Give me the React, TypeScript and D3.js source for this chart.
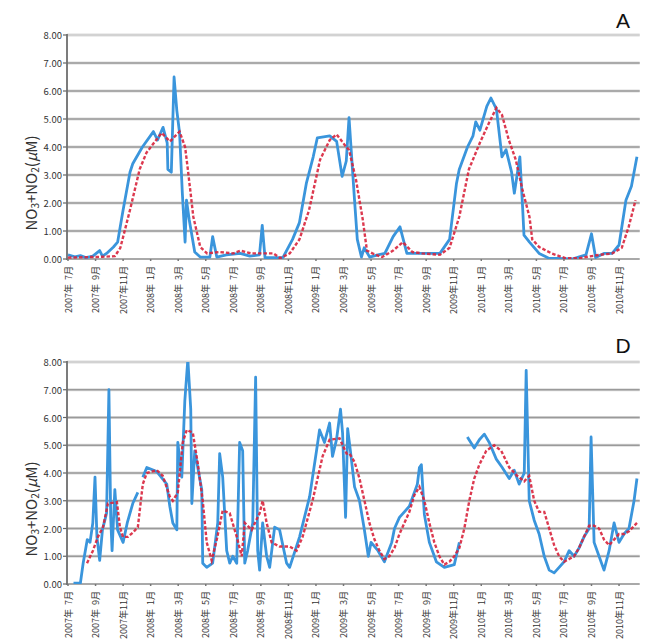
import React from "react";
import * as d3 from "d3";

// time is expressed in months since 2007-07-01
type P = [number, number] | null;

const tickMonths = [0, 2, 4, 6, 8, 10, 12, 14, 16, 18, 20, 22, 24, 26, 28, 30, 32, 34, 36, 38, 40];
const tickLabels = [
  "2007年  7月", "2007年  9月", "2007年11月", "2008年  1月", "2008年  3月", "2008年  5月",
  "2008年  7月", "2008年  9月", "2008年11月", "2009年  1月", "2009年  3月", "2009年  5月",
  "2009年  7月", "2009年  9月", "2009年11月", "2010年  1月", "2010年  3月", "2010年  5月",
  "2010年  7月", "2010年  9月", "2010年11月",
];
const yTicks = [0, 1, 2, 3, 4, 5, 6, 7, 8];

const obsA: P[] = [
  [0, 0.15], [0.5, 0.08], [0.9, 0.12], [1.3, 0.05], [1.8, 0.1], [2.3, 0.3], [2.5, 0.1], [2.8, 0.2],
  [3.3, 0.43], [3.6, 0.6], [4.0, 1.75], [4.5, 3.1], [4.7, 3.4], [5.4, 4.0], [6.2, 4.55], [6.5, 4.25],
  [6.9, 4.7], [7.2, 4.15], [7.25, 3.2], [7.5, 3.1], [7.7, 6.5], [7.9, 5.3], [8.1, 4.5], [8.3, 2.35],
  [8.5, 0.6], [8.6, 2.1], [8.8, 1.4], [9.2, 0.25], [9.6, 0.07], [10.3, 0.07], [10.5, 0.8], [10.8, 0.07],
  [11.5, 0.15], [12.5, 0.2], [13.2, 0.1], [13.9, 0.15], [14.1, 1.2], [14.3, 0.05], [15.0, 0.05],
  [15.6, 0.05], [16.3, 0.7], [16.8, 1.3], [17.3, 2.7], [17.8, 3.65], [18.1, 4.33], [19.0, 4.4],
  [19.5, 4.2], [19.9, 2.95], [20.2, 3.5], [20.4, 5.05], [20.8, 2.1], [21.0, 0.7], [21.3, 0.07],
  [21.5, 0.4], [21.9, 0.07], [22.5, 0.15], [23.0, 0.2], [23.6, 0.8], [24.1, 1.15], [24.6, 0.2],
  [25.5, 0.2], [26.5, 0.2], [27.0, 0.2], [27.7, 0.7], [28.2, 2.7], [28.4, 3.2], [29.0, 4.0],
  [29.4, 4.4], [29.6, 4.9], [29.9, 4.6], [30.4, 5.45], [30.7, 5.75], [31.1, 5.35], [31.5, 3.65],
  [31.8, 3.9], [32.2, 3.1], [32.4, 2.35], [32.8, 3.65], [33.0, 1.85], [33.1, 0.85], [33.5, 0.6],
  [34.2, 0.2], [34.9, 0.03], [36.6, 0.0], [37.6, 0.15], [38.0, 0.9], [38.3, 0.05], [38.9, 0.2],
  [39.5, 0.2], [40.0, 0.5], [40.5, 2.1], [40.9, 2.6], [41.3, 3.65],
];

const avgA: P[] = [
  [0, 0.05], [2.5, 0.08], [3.4, 0.1], [3.8, 0.4], [4.5, 1.75], [5.2, 3.2], [5.7, 3.8], [6.4, 4.25],
  [6.8, 4.5], [7.4, 4.2], [8.1, 4.55], [8.5, 4.0], [8.7, 3.2], [9.1, 1.5], [9.6, 0.43], [10.1, 0.2],
  [11, 0.25], [12, 0.2], [12.5, 0.3], [13.3, 0.2], [14.3, 0.2], [14.9, 0.2], [15.4, 0.03], [16.1, 0.2],
  [16.8, 0.7], [17.5, 1.75], [18.3, 3.55], [19.0, 4.25], [19.5, 4.45], [20.2, 4.0], [20.4, 3.9],
  [20.9, 2.85], [21.4, 1.4], [21.7, 0.3], [22.1, 0.2], [22.8, 0.07], [23.6, 0.3], [24.3, 0.6],
  [25.0, 0.25], [25.7, 0.2], [27.0, 0.15], [27.7, 0.4], [28.4, 1.5], [29.1, 3.2], [29.9, 4.15],
  [30.6, 4.9], [31.1, 5.4], [31.5, 5.15], [32.0, 4.25], [32.5, 3.55], [33.0, 2.45], [33.5, 1.5],
  [33.7, 0.7], [34.2, 0.43], [35.1, 0.2], [36.1, 0.03], [37.1, 0.03], [38.6, 0.15], [39.5, 0.2],
  [40.2, 0.4], [40.7, 1.15], [41.2, 2.1],
];

const obsD: P[] = [
  [0.4, 0.03], [0.9, 0.03], [1.1, 0.75], [1.4, 1.6], [1.6, 1.5], [1.8, 2.2], [1.96, 3.85], [2.1, 1.7],
  [2.3, 0.85], [2.5, 1.95], [2.8, 2.55], [2.97, 7.0], [3.1, 2.4], [3.2, 1.2], [3.4, 3.4], [3.6, 1.95],
  [4.0, 1.5], [4.3, 2.2], [4.7, 2.9], [5.07, 3.3], null, [5.43, 3.85], [5.72, 4.2], [6.45, 4.05],
  [7.17, 3.6], [7.39, 2.8], [7.61, 2.2], [7.9, 1.95], [7.97, 5.1], [8.26, 3.85], [8.48, 6.6],
  [8.7, 8.1], [8.91, 6.3], [8.99, 2.9], [9.2, 4.8], [9.42, 4.2], [9.71, 3.4], [9.78, 0.75],
  [10.07, 0.6], [10.5, 0.75], [10.87, 2.2], [11.01, 4.7], [11.23, 3.85], [11.52, 1.2], [11.74, 0.75],
  [11.96, 1.0], [12.25, 0.75], [12.46, 5.1], [12.68, 4.8], [12.83, 0.75], [13.04, 1.2], [13.41, 2.2],
  [13.62, 7.45], [13.77, 1.2], [13.91, 0.5], [14.13, 2.2], [14.42, 1.0], [14.64, 0.6], [15.0, 2.05],
  [15.36, 1.95], [15.87, 0.75], [16.09, 0.6], [16.81, 1.7], [17.54, 3.15], [18.04, 4.8], [18.26, 5.55],
  [18.62, 5.1], [18.99, 5.8], [19.2, 4.6], [19.49, 5.2], [19.78, 6.3], [19.93, 5.45], [20.15, 2.4],
  [20.3, 5.6], [20.5, 4.8], [20.8, 3.5], [21.16, 3.0], [21.5, 2.0], [21.8, 1.0], [22.0, 1.5],
  [22.5, 1.2], [22.97, 0.8], [23.5, 1.5], [23.7, 2.0], [24.06, 2.4], [24.78, 2.8], [25.36, 3.6],
  [25.51, 4.2], [25.65, 4.3], [25.87, 2.5], [26.23, 1.5], [26.74, 0.8], [27.32, 0.6], [28.04, 0.7],
  [28.41, 1.5], null, [28.99, 5.3], [29.49, 4.9], [29.86, 5.2], [30.22, 5.4], [30.58, 5.1],
  [31.09, 4.5], [31.52, 4.2], [32.03, 3.8], [32.39, 4.1], [32.75, 3.6], [33.12, 4.0], [33.26, 7.7],
  [33.48, 3.0], [33.84, 2.3], [34.2, 1.8], [34.57, 1.0], [34.93, 0.5], [35.29, 0.4], [35.65, 0.6],
  [36.01, 0.8], [36.38, 1.2], [36.74, 1.0], [37.1, 1.3], [37.46, 1.7], [37.83, 2.0], [37.97, 5.3],
  [38.19, 1.5], [38.55, 1.0], [38.91, 0.5], [39.28, 1.2], [39.64, 2.2], [40.0, 1.5], [40.36, 1.8],
  [40.72, 2.0], [41.09, 3.0], [41.3, 3.8],
];

const avgD: P[] = [
  [1.38, 0.75], [1.81, 1.2], [2.17, 1.7], [2.54, 2.05], [2.9, 2.9], [3.55, 2.95], [3.77, 2.05],
  [3.99, 1.7], [4.35, 1.7], [4.71, 1.85], [5.07, 2.05], [5.43, 3.6], [5.72, 4.0], [6.45, 4.1],
  [6.88, 3.9], [7.39, 3.15], [7.61, 3.0], [7.97, 3.3], [8.33, 5.1], [8.62, 5.55], [9.06, 5.45],
  [9.42, 4.35], [9.78, 3.0], [10.07, 1.5], [10.43, 0.85], [10.8, 1.6], [11.23, 2.65], [11.74, 2.55],
  [12.25, 1.7], [12.61, 1.0], [12.83, 2.2], [13.33, 1.95], [13.91, 2.55], [14.13, 3.0], [14.42, 2.2],
  [14.78, 1.5], [15.36, 1.35], [16.09, 1.35], [16.59, 1.2], [17.03, 1.7], [17.75, 3.0], [18.48, 4.6],
  [18.99, 5.2], [19.71, 5.25], [20.22, 4.7], [20.43, 4.7], [20.8, 4.4], [21.16, 3.8], [21.52, 3.0],
  [21.88, 2.2], [22.25, 1.6], [22.61, 1.2], [22.97, 0.9], [23.33, 1.0], [23.7, 1.3], [24.06, 1.8],
  [24.42, 2.2], [24.78, 2.6], [25.14, 3.2], [25.51, 3.5], [25.87, 3.0], [26.23, 2.2], [26.59, 1.5],
  [26.96, 1.0], [27.32, 0.7], [27.68, 0.8], [28.04, 1.0], [28.41, 1.3], [28.77, 2.0], [29.13, 3.0],
  [29.49, 3.8], [29.86, 4.3], [30.36, 4.8], [30.94, 5.0], [31.45, 4.8], [32.03, 4.2], [32.61, 3.9],
  [33.12, 3.7], [33.48, 3.9], [33.84, 3.0], [34.2, 2.6], [34.57, 2.6], [34.93, 2.0], [35.29, 1.4],
  [35.65, 1.0], [36.01, 0.8], [36.38, 0.9], [36.74, 1.0], [37.1, 1.3], [37.46, 1.7], [37.83, 2.1],
  [38.19, 2.1], [38.55, 2.0], [38.91, 1.6], [39.28, 1.4], [39.64, 1.6], [40.0, 1.8], [40.36, 1.8],
  [40.72, 1.9], [41.3, 2.2],
];

const W = 648;
const H = 643;
const X0 = 68;
const X1 = 639.7;
const FONT = "'Noto Sans CJK JP', 'Noto Sans', sans-serif";

function Panel({ id, top, bottom, obs, avg, letter, letterY }: {
  id: string; top: number; bottom: number; obs: P[]; avg: P[]; letter: string; letterY: number;
}) {
  const x = d3.scaleLinear().domain([0, 41.5]).range([X0, X1]);
  const y = d3.scaleLinear().domain([0, 8]).range([bottom, top]);
  const line = d3.line<P>()
    .defined((d) => d != null)
    .x((d) => x((d as [number, number])[0]))
    .y((d) => y((d as [number, number])[1]));
  const axisX = X0 - 1;
  const titleY = (top + bottom) / 2 + 36;
  return (
    <g>
      <defs>
        <clipPath id={`clip-${id}`}>
          <rect x={axisX} y={top} width={X1 - axisX + 2} height={bottom - top} />
        </clipPath>
      </defs>
      {yTicks.map((t) => (
        <g key={t}>
          {t > 0 && (
            <line x1={axisX} x2={X1} y1={y(t)} y2={y(t)} stroke="#dcdcdc" strokeWidth={3.2} />
          )}
          <line
            x1={axisX} x2={X1} y1={y(t)} y2={y(t)}
            stroke={t === 8 ? "#c8c8c8" : t === 0 ? "#8c8c8c" : "#9a9a9a"}
            strokeWidth={t === 8 ? 1.2 : 1.5}
          />
          <line x1={axisX - 4} x2={axisX} y1={y(t)} y2={y(t)} stroke="#666" strokeWidth={1.2} />
          <text
            x={axisX - 5} y={y(t)} textAnchor="end" dominantBaseline="central"
            fontSize={9.5} fontFamily={FONT} fill="#333"
          >
            {t.toFixed(2)}
          </text>
        </g>
      ))}
      <line x1={axisX} x2={axisX} y1={top - 1} y2={bottom + 1} stroke="#6e6e6e" strokeWidth={1.8} />
      {tickMonths.map((m, i) => (
        <g key={m}>
          <line x1={x(m)} x2={x(m)} y1={bottom} y2={bottom + 2} stroke="#777" strokeWidth={1.5} />
          <text
            transform={`translate(${x(m)},${bottom + 7}) rotate(-90)`}
            textAnchor="end" dominantBaseline="central" fontSize={9} fontFamily={FONT}
            fill="#333" style={{ whiteSpace: "pre" }}
          >
            {tickLabels[i]}
          </text>
        </g>
      ))}
      <g clipPath={`url(#clip-${id})`}>
        <path d={line(obs) || ""} fill="none" stroke="#3a95dc" strokeWidth={2.8} strokeLinejoin="round" />
        <path
          d={line(avg) || ""} fill="none" stroke="#d8243c" strokeWidth={2.4}
          strokeDasharray="3.5 2" strokeOpacity={0.9}
        />
      </g>
      <text
        transform={`translate(30,${titleY}) rotate(-90)`} textAnchor="middle"
        dominantBaseline="central" fontSize={15} fontFamily={FONT} fill="#333"
      >
        NO<tspan fontSize={10} dy={4}>3</tspan><tspan dy={-4}>+NO</tspan>
        <tspan fontSize={10} dy={4}>2</tspan><tspan dy={-4}>(</tspan>
        <tspan fontStyle="italic">μ</tspan>M)
      </text>
      <text x={623} y={letterY} textAnchor="middle" dominantBaseline="central"
        fontSize={21} fontFamily="'Liberation Sans', Arial, sans-serif" fill="#111">
        {letter}
      </text>
    </g>
  );
}

export default function App() {
  return (
    <svg width={W} height={H} viewBox={`0 0 ${W} ${H}`} style={{ display: "block", position: "absolute", left: 0, top: 0 }}>
      <rect width={W} height={H} fill="#ffffff" />
      <Panel id="a" top={35} bottom={259} obs={obsA} avg={avgA} letter="A" letterY={20} />
      <Panel id="d" top={362} bottom={584} obs={obsD} avg={avgD} letter="D" letterY={345} />
    </svg>
  );
}
